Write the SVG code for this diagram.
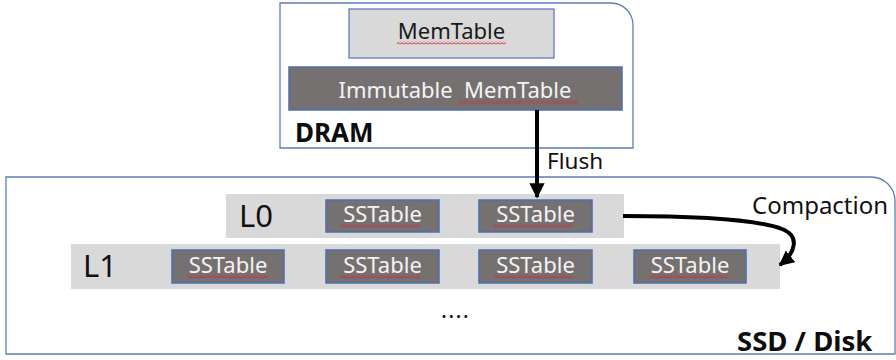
<svg xmlns="http://www.w3.org/2000/svg" width="896" height="360" viewBox="0 0 896 360">
  <defs>
    <style>
      text { font-family: "Noto Sans", "Open Sans", sans-serif; }
      .zone { fill: #ffffff; stroke: #5b7dbd; stroke-width: 1.3; }
      .band { fill: #d9d9d9; }
      .mem { fill: #d9d9d9; stroke: #5b7dbd; stroke-width: 1.3; }
      .dark { fill: #767171; stroke: #4a6fb3; stroke-width: 1.5; }
      .lbl-dark { fill: #f4f4f4; font-size: 22px; text-anchor: middle; }
      .lbl-light { fill: #1a1a1a; font-size: 22px; text-anchor: middle; }
      .level { fill: #111111; font-size: 31px; }
      .title { fill: #0d0d0d; font-size: 26px; font-weight: bold; }
      .note { fill: #111111; font-size: 22.5px; }
      .wire { fill: none; stroke: #000000; stroke-width: 4; }
      .squig { fill: url(#squiggle); }
    </style>
    <pattern id="squiggle" width="4" height="3" patternUnits="userSpaceOnUse">
      <path d="M0,2.4 L2,0.6 L4,2.4" fill="none" stroke="#e0202a" stroke-width="1"/>
    </pattern>
    <marker id="head" viewBox="0 0 10 10" refX="9" refY="5" markerWidth="3.8" markerHeight="3.8" orient="auto" markerUnits="strokeWidth">
      <path d="M0,0 L10,5 L0,10 Z" fill="#000000"/>
    </marker>
  </defs>

  <!-- storage zones -->
  <g id="dram">
    <path class="zone" d="M280,3 H611 A22,22 0 0 1 633,25 V148 H280 Z"/>
    <text class="title" x="295" y="142">DRAM</text>
  </g>
  <g id="ssd">
    <path class="zone" d="M6,177 H871 A24,24 0 0 1 895,201 V354 H6 Z"/>
    <text class="title" x="737" y="351" style="font-size:27.5px">SSD / Disk</text>
  </g>

  <!-- in-memory tables -->
  <g id="memtable">
    <rect class="mem" x="349" y="9" width="205" height="49"/>
    <text class="lbl-light" x="451.5" y="39">MemTable</text>
    <rect class="squig" x="397" y="41.5" width="109" height="3"/>
  </g>
  <g id="immutable-memtable">
    <rect class="dark" x="289" y="67" width="333" height="43"/>
    <text class="lbl-dark" x="455" y="98" xml:space="preserve">Immutable  MemTable</text>
    <rect class="squig" x="458" y="100.5" width="120" height="3"/>
  </g>

  <!-- level L0 -->
  <g id="level-0">
    <rect class="band" x="226" y="194" width="398" height="44"/>
    <text class="level" x="239" y="227">L0</text>
  </g>
  <g id="l0-sstable-1">
    <rect class="dark" x="326" y="200" width="113" height="32"/>
    <text class="lbl-dark" x="382.5" y="222">SSTable</text>
    <rect class="squig" x="341" y="224" width="79" height="3"/>
  </g>
  <g id="l0-sstable-2">
    <rect class="dark" x="479" y="200" width="113" height="32"/>
    <text class="lbl-dark" x="535.5" y="222">SSTable</text>
    <rect class="squig" x="494" y="224" width="79" height="3"/>
  </g>

  <!-- level L1 -->
  <g id="level-1">
    <rect class="band" x="71" y="244" width="709" height="45"/>
    <text class="level" x="83" y="277">L1</text>
  </g>
  <g id="l1-sstable-1">
    <rect class="dark" x="172" y="250" width="112" height="33"/>
    <text class="lbl-dark" x="228" y="273">SSTable</text>
    <rect class="squig" x="188" y="275" width="79" height="3"/>
  </g>
  <g id="l1-sstable-2">
    <rect class="dark" x="326" y="250" width="113" height="33"/>
    <text class="lbl-dark" x="382.5" y="273">SSTable</text>
    <rect class="squig" x="341" y="275" width="79" height="3"/>
  </g>
  <g id="l1-sstable-3">
    <rect class="dark" x="479" y="250" width="113" height="33"/>
    <text class="lbl-dark" x="535.5" y="273">SSTable</text>
    <rect class="squig" x="494" y="275" width="79" height="3"/>
  </g>
  <g id="l1-sstable-4">
    <rect class="dark" x="634" y="250" width="112" height="33"/>
    <text class="lbl-dark" x="690" y="273">SSTable</text>
    <rect class="squig" x="650" y="275" width="79" height="3"/>
  </g>

  <g id="more-levels">
    <text class="note" x="441" y="318" letter-spacing="1.2">....</text>
  </g>

  <!-- data movement -->
  <g id="connectors">
    <path class="wire" d="M537,110 V197" marker-end="url(#head)"/>
    <text class="note" x="547" y="169">Flush</text>
    <path class="wire" d="M623,216 C700,216 758,220 782,229 C800,236 796,252 780,265" marker-end="url(#head)"/>
    <text class="note" x="752" y="214" style="font-size:24px">Compaction</text>
  </g>
</svg>
